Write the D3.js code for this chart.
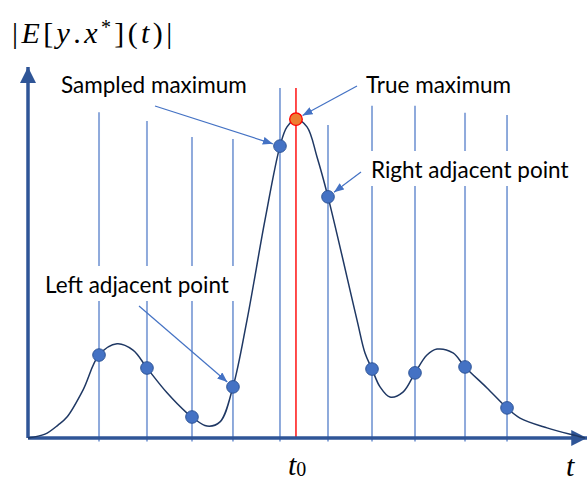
<!DOCTYPE html>
<html>
<head>
<meta charset="utf-8">
<script src="https://cdn.jsdelivr.net/npm/d3@7"></script>
<style>
  html, body { margin: 0; padding: 0; background: #ffffff; }
  svg { display: block; }
</style>
</head>
<body>
<svg id="chart" width="587" height="481"></svg>
<script>
// Smooth response |E[y.x*](t)| traced as (t, value) knots
const curveT = [0, 0.305, 0.539, 0.700, 0.987, 1.275, 1.598, 1.885, 2.136, 2.496, 2.855, 2.944, 3.214, 3.447, 3.680, 3.932, 4.255, 4.524, 4.650, 4.811, 5.009, 5.189, 5.386, 5.907, 6.050, 6.176, 6.320, 6.499, 6.732, 6.948, 7.163, 7.343, 7.630, 7.846, 8.241, 8.600, 8.833, 9.318, 9.856, 10];
const curveV = [0, 0.011, 0.037, 0.060, 0.137, 0.237, 0.269, 0.251, 0.200, 0.129, 0.071, 0.060, 0.034, 0.046, 0.146, 0.337, 0.623, 0.834, 0.889, 0.911, 0.889, 0.803, 0.689, 0.337, 0.243, 0.197, 0.146, 0.117, 0.131, 0.186, 0.237, 0.254, 0.243, 0.203, 0.143, 0.086, 0.057, 0.029, 0.006, 0];

// Sampling instants and sampled values
const sampleT = [1.275, 2.136, 2.944, 3.680, 4.524, 5.386, 6.176, 6.948, 7.846, 8.600];
const sampleV = [0.237, 0.200, 0.060, 0.146, 0.834, 0.689, 0.197, 0.186, 0.203, 0.086];
// Height reached by each sampling guide line and its style
const sampleTop = [0.931, 0.906, 0.860, 0.854, 1.0, 0.894, 0.949, 0.949, 0.929, 0.923];
const sampleKind = ["light", "light", "light", "dark", "dark", "dark", "dark", "light", "light", "dark"];

// True maximum
const t0 = 4.811;
const peakV = 0.911;
const peakTop = 1.0;

// Axis extents
const xMaxT = 10.04;
const yMaxV = 1.06;

const svg = d3.select("#chart");
const x = d3.scaleLinear().domain([0, 10]).range([28, 585]);
const y = d3.scaleLinear().domain([0, 1]).range([438, 88]);

const defs = svg.append("defs");
defs.append("marker")
  .attr("id", "axisHead").attr("markerUnits", "userSpaceOnUse")
  .attr("viewBox", "0 0 16 16").attr("refX", 16).attr("refY", 8)
  .attr("markerWidth", 16).attr("markerHeight", 16).attr("orient", "auto")
  .append("path").attr("d", "M0,0L16,8L0,16Z").attr("fill", "#2F5597");
defs.append("marker")
  .attr("id", "noteHead").attr("markerUnits", "userSpaceOnUse")
  .attr("viewBox", "0 0 10 8").attr("refX", 10).attr("refY", 4)
  .attr("markerWidth", 10).attr("markerHeight", 8).attr("orient", "auto")
  .append("path").attr("d", "M0,0L10,4L0,8Z").attr("fill", "#4472C4");

// Sampling guide lines
const guides = svg.append("g");
guides.selectAll("line").data(sampleT).join("line")
  .attr("x1", d => x(d)).attr("x2", d => x(d))
  .attr("y1", (d, i) => y(sampleTop[i]))
  .attr("y2", y(0) + 3.5)
  .attr("stroke", (d, i) => sampleKind[i] === "light" ? "#8FAADC" : "#4472C4")
  .attr("stroke-width", (d, i) => sampleKind[i] === "light" ? 2 : 1.2);

// True-maximum line
svg.append("line")
  .attr("x1", x(t0)).attr("x2", x(t0))
  .attr("y1", y(peakTop)).attr("y2", y(0))
  .attr("stroke", "#FF0000").attr("stroke-width", 1.4);

// Labels with white backing that break the guides
const font = "Lato, 'Open Sans', sans-serif";
function label(text, lx, ly, size, backed) {
  const g = svg.append("g");
  const t = g.append("text").attr("x", lx).attr("y", ly)
    .attr("font-family", font).attr("font-size", size)
    .attr("fill", "#000000").text(text);
  if (backed) {
    const b = t.node().getBBox();
    g.insert("rect", "text")
      .attr("x", b.x - 6).attr("y", b.y - 5)
      .attr("width", b.width + 12).attr("height", b.height + 8)
      .attr("fill", "#ffffff");
  }
  return g;
}

// Axes
svg.append("line")
  .attr("x1", x(0)).attr("y1", y(0)).attr("x2", x(0)).attr("y2", y(yMaxV))
  .attr("stroke", "#2F5597").attr("stroke-width", 3.5)
  .attr("marker-end", "url(#axisHead)");
svg.append("line")
  .attr("x1", x(0)).attr("y1", y(0)).attr("x2", x(xMaxT)).attr("y2", y(0))
  .attr("stroke", "#2F5597").attr("stroke-width", 3.5)
  .attr("marker-end", "url(#axisHead)");

// Response curve
const curvePts = curveT.map((t, i) => [t, curveV[i]]);
svg.append("path")
  .datum(curvePts)
  .attr("d", d3.line().x(d => x(d[0])).y(d => y(d[1])).curve(d3.curveCatmullRom.alpha(0.5)))
  .attr("fill", "none").attr("stroke", "#1F3864").attr("stroke-width", 1.5);

label("Left adjacent point", 45, 293, 22.5, true);
label("Right adjacent point", 371, 178, 22.5, true);
label("Sampled maximum", 61, 93, 22.5, false);
label("True maximum", 366, 93, 22.5, false);

// Sample points
svg.append("g").selectAll("circle").data(sampleT).join("circle")
  .attr("cx", d => x(d)).attr("cy", (d, i) => y(sampleV[i]))
  .attr("r", 6.3)
  .attr("fill", "#4472C4").attr("stroke", "#2F5597").attr("stroke-width", 1);

// True maximum point
svg.append("circle")
  .attr("cx", x(t0)).attr("cy", y(peakV)).attr("r", 6.3)
  .attr("fill", "#ED7D31").attr("stroke", "#FF0000").attr("stroke-width", 1.3);

// Annotation arrows: start near the label, end at the marker edge
const notes = [
  { sx: 155, sy: 106, t: sampleT[4], v: sampleV[4] },
  { sx: 357, sy: 86, t: t0, v: peakV },
  { sx: 361, sy: 172, t: sampleT[5], v: sampleV[5] },
  { sx: 139, sy: 306, t: sampleT[3], v: sampleV[3] }
];
svg.append("g").selectAll("line").data(notes).join("line")
  .attr("x1", d => d.sx).attr("y1", d => d.sy)
  .each(function(d) {
    const tx = x(d.t), ty = y(d.v);
    const dx = tx - d.sx, dy = ty - d.sy, L = Math.hypot(dx, dy);
    const k = (L - 7.5) / L;
    d3.select(this).attr("x2", d.sx + dx * k).attr("y2", d.sy + dy * k);
  })
  .attr("stroke", "#4472C4").attr("stroke-width", 1.2)
  .attr("marker-end", "url(#noteHead)");

// Math labels
const mathFont = "'Liberation Serif', 'DejaVu Serif', serif";
const title = svg.append("text").attr("x", 12).attr("y", 43)
  .attr("font-family", mathFont).attr("font-size", 30)
  .attr("letter-spacing", 3.4).attr("fill", "#000");
[["|", 0], ["E", 1], ["[", 0], ["y", 1], [".", 0], ["x", 1]].forEach(([s, it]) =>
  title.append("tspan").attr("font-style", it ? "italic" : "normal").text(s));
title.append("tspan").attr("dy", -9).attr("font-size", 20).text("*");
title.append("tspan").attr("dy", 9).text("](");
title.append("tspan").attr("font-style", "italic").text("t");
title.append("tspan").text(")|");

const t0Label = svg.append("text").attr("x", 288).attr("y", 475)
  .attr("font-family", mathFont).attr("font-size", 30).attr("fill", "#000");
t0Label.append("tspan").attr("font-style", "italic").text("t");
t0Label.append("tspan").attr("dy", 1).attr("font-size", 20).text("0");

svg.append("text").attr("x", 566).attr("y", 476)
  .attr("font-family", mathFont).attr("font-size", 30).attr("font-style", "italic")
  .attr("fill", "#000").text("t");
</script>
</body>
</html>
